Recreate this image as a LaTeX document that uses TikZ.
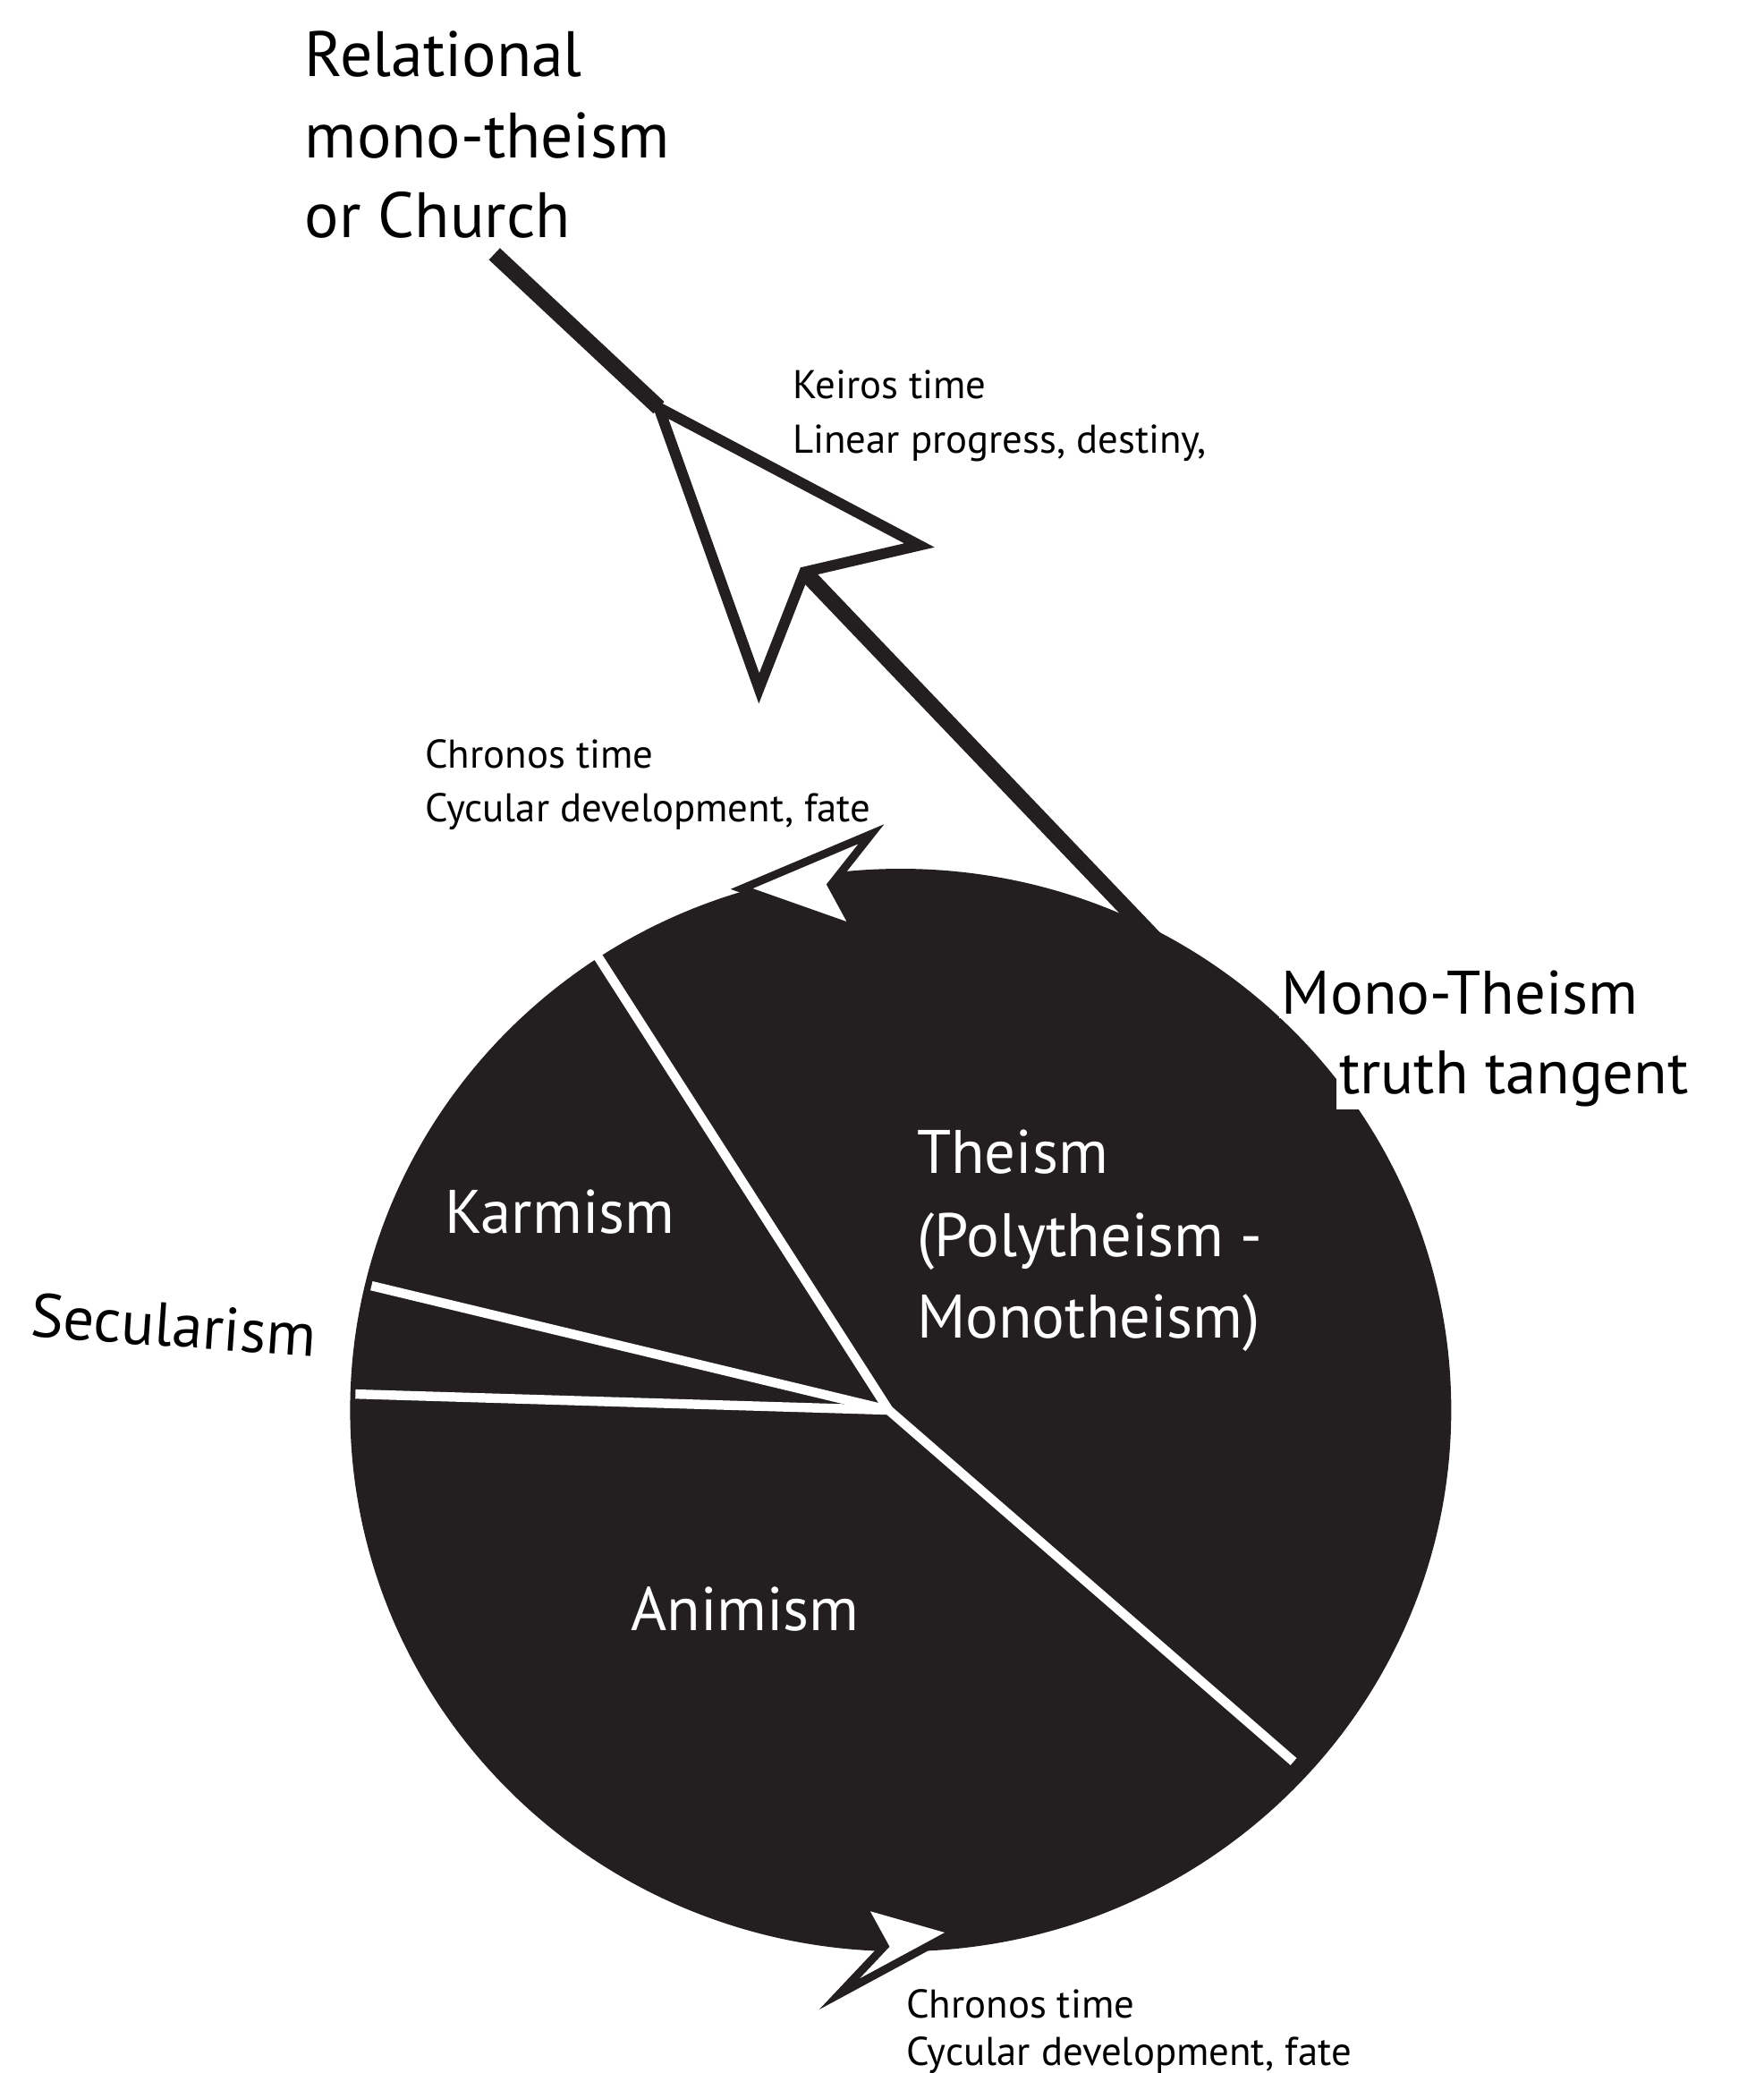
\documentclass[tikz,border=0pt]{standalone}
\usepackage{fontspec}
\setmainfont{PT Sans}
\definecolor{ink}{HTML}{231F20}
\begin{document}
\begin{tikzpicture}[x=1pt,y=-1pt,
  big/.style={font=\fontsize{46}{52}\selectfont,anchor=base west,inner sep=0pt},
  huge/.style={font=\fontsize{48}{56}\selectfont,anchor=base west,inner sep=0pt},
  small/.style={font=\fontsize{30}{34}\selectfont,anchor=base west,inner sep=0pt},
  sep/.style={white,line width=7pt},
  arr/.style={fill=white,draw=ink,line width=6pt,line join=miter}]
\useasboundingbox (0,0) rectangle (1320,1551);
% tangent line
\coordinate (tail) at (370,190);
\coordinate (tip) at (493,305);
\coordinate (notch) at (602,428);
\coordinate (touch) at (905,745);
\draw[ink,line width=12pt] (tail) -- (tip);
\draw[ink,line width=12pt] (notch) -- (touch);
\draw[arr,line width=8pt] (tip) -- (568,515) -- (notch) -- (688,408) -- cycle;
% disc
\coordinate (c) at (665,1055);
\fill[ink] (674,1055) ellipse [x radius=412, y radius=405];
\draw[sep] (c) -- (447,715);
\draw[sep] (c) -- (278,962);
\draw[sep] (c) -- (266,1043);
\draw[sep] (c) -- (968,1318);
% chronos arrows
\draw[arr] (555,665) -- (652,624) -- (622,662) -- (640,695) -- cycle;
\draw[arr] (715,1445) -- (645,1425) -- (662,1456) -- (628,1492) -- cycle;
% texts
\node[huge] (r1) at (228,57) {Relational};
\node[huge] (r2) at (228,118) {mono-theism};
\node[huge] (r3) at (228,178) {or Church};
\node[small] (k1) at (593,298) {Keiros time};
\node[small] (k2) at (593,339) {Linear progress, destiny,};
\node[small] (c1) at (318,575) {Chronos time};
\node[small] (c2) at (318,615) {Cycular development, fate};
\node[big,fill=white,inner sep=2pt] (m1) at (957,759) {Mono-Theism};
\node[big,fill=white,inner sep=2pt] (m2) at (1000,818) {truth tangent};
\node[big,white] (t1) at (686,878) {Theism};
\node[big,white] (t2) at (686,940) {(Polytheism -};
\node[big,white] (t3) at (686,1001) {Monotheism)};
\node[big,white] (ka) at (333,923) {Karmism};
\node[big,rotate=-4] (se) at (22,1000) {Secularism};
\node[big,white] (an) at (472,1220) {Animism};
\node[small] (b1) at (678,1510) {Chronos time};
\node[small] (b2) at (678,1545) {Cycular development, fate};
\end{tikzpicture}
\end{document}
